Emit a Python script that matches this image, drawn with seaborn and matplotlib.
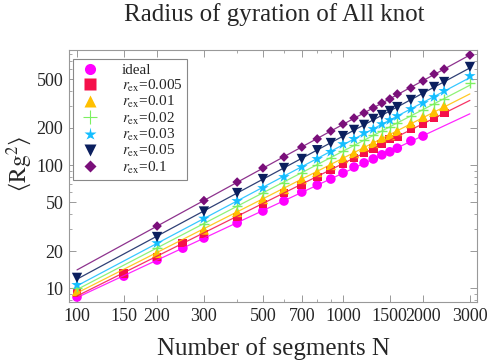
import numpy as np
import pandas as pd
import matplotlib
matplotlib.use('Agg')
import matplotlib.pyplot as plt
import seaborn as sns
from matplotlib.lines import Line2D
from matplotlib.ticker import FixedLocator, FixedFormatter, LogLocator, NullFormatter

# segment counts used by each series
n_ideal = [100, 150, 200, 250, 300, 400, 500, 600, 700, 800, 900, 1000, 1100, 1200,
           1300, 1400, 1500, 1600, 1800, 2000]
n_005 = [100, 150, 200, 250, 300, 400, 500, 600, 700, 800, 900, 1000, 1100, 1200,
         1300, 1400, 1500, 1600, 1800, 2000, 2200, 2400]
n_01 = [100, 200, 300, 400, 500, 600, 700, 800, 900, 1000, 1100, 1200,
        1300, 1400, 1500, 1600, 1800, 2000, 2200, 2400]
n_mid = [100, 200, 300, 400, 500, 600, 700, 800, 900, 1000, 1100, 1200,
         1300, 1400, 1500, 1600, 1800, 2000, 2200, 2400, 3000]
n_1 = [200, 300, 400, 500, 600, 700, 800, 900, 1000, 1100, 1200,
       1300, 1400, 1500, 1600, 1800, 2000, 2200, 2400, 3000]

# <Rg^2> values
rg_ideal = [8.45, 12.5, 16.9, 21.1, 25.5, 33.8, 42.3, 51.0, 60.3, 68.8, 76.9, 86.1, 96.3,
            104, 112, 121, 128, 137, 157, 172]
rg_005 = [9.1, 13.2, 17.9, 23.2, 27.5, 37.8, 48.2, 59.2, 68.8, 79.9, 91.1, 102, 114, 125,
          137, 148, 163, 169, 196, 219, 241, 265]
rg_01 = [9.45, 19.3, 29.9, 41.5, 52.9, 63.8, 76.9, 87.7, 100, 114, 125, 140, 151, 166,
         175, 189, 219, 246, 270, 302]
rg_02 = [10.0, 21.1, 33.1, 46.4, 59.2, 71.4, 86.1, 100, 114, 130, 145, 160, 175, 189,
         204, 219, 250, 280, 313, 344, 464]
rg_03 = [10.6, 23.2, 36.7, 51.0, 65.0, 79.9, 96.3, 112, 128, 148, 163, 182, 196, 215,
         232, 250, 285, 319, 357, 400, 529]
rg_05 = [12.1, 26.0, 41.9, 59.2, 76.9, 94.6, 112, 132, 151, 172, 193, 212, 237, 255,
         275, 296, 338, 378, 431, 473, 627]
rg_1 = [31.9, 51.4, 72.7, 94.6, 116, 140, 163, 189, 215, 241, 265, 291, 319, 344,
        378, 423, 482, 549, 603, 784]

labels = ['ideal', r'$r_{\mathrm{ex}}$=0.005', r'$r_{\mathrm{ex}}$=0.01', r'$r_{\mathrm{ex}}$=0.02',
          r'$r_{\mathrm{ex}}$=0.03', r'$r_{\mathrm{ex}}$=0.05', r'$r_{\mathrm{ex}}$=0.1']
colors = ['#FF00FF', '#F5104A', '#FFC000', '#7CF060', '#14BEFF', '#0B1F5E', '#7A0F7A']
markers = ['o', 's', '^', '+', '*', 'v', 'D']
sizes = [48, 40, 55, 60, 75, 55, 24]

series = [(n_ideal, rg_ideal), (n_005, rg_005), (n_01, rg_01), (n_mid, rg_02),
          (n_mid, rg_03), (n_mid, rg_05), (n_1, rg_1)]

sns.set_style('ticks')
plt.rcParams['font.family'] = ['Liberation Serif', 'DejaVu Serif']
plt.rcParams['mathtext.fontset'] = 'stix'

fig = plt.figure(figsize=(4.9, 3.62), dpi=100)
ax = fig.add_axes([69 / 490, 1 - 302 / 362, 408 / 490, 252 / 362])

handles = []
for (n, rg), lab, c, m, s in zip(series, labels, colors, markers, sizes):
    df = pd.DataFrame({'N': n, 'Rg2': rg})
    # power-law fit drawn across the whole N range
    coef = np.polyfit(np.log10(df['N']), np.log10(df['Rg2']), 1)
    n_line = np.array([100, 3000])
    sns.lineplot(x=n_line, y=10 ** np.polyval(coef, np.log10(n_line)), color=c,
                 lw=0.9, alpha=0.85, ax=ax)
    if m == '+':
        sns.scatterplot(data=df, x='N', y='Rg2', marker=m, s=s, color=c, linewidth=1.0, ax=ax)
        handles.append(Line2D([], [], ls='', marker=m, color=c, markersize=10, mew=0.8, label=lab))
    else:
        sns.scatterplot(data=df, x='N', y='Rg2', marker=m, s=s, color=c, edgecolor='none', ax=ax)
        handles.append(Line2D([], [], ls='', marker=m, color=c,
                              markersize={'D': 6.5, '*': 9.5}.get(m, 8), mec='none', label=lab))

ax.set_xscale('log')
ax.set_yscale('log')
ax.set_xlim(93.3, 3190)
ax.set_ylim(7.7, 861)

xt = [100, 150, 200, 300, 500, 700, 1000, 1500, 2000, 3000]
yt = [10, 20, 50, 100, 200, 500]
ax.xaxis.set_major_locator(FixedLocator(xt))
ax.xaxis.set_major_formatter(FixedFormatter([str(v) for v in xt]))
ax.xaxis.set_minor_locator(LogLocator(base=10, subs=np.arange(1, 10)))
ax.xaxis.set_minor_formatter(NullFormatter())
ax.yaxis.set_major_locator(FixedLocator(yt))
ax.yaxis.set_major_formatter(FixedFormatter([str(v) for v in yt]))
ax.yaxis.set_minor_locator(LogLocator(base=10, subs=np.arange(1, 10)))
ax.yaxis.set_minor_formatter(NullFormatter())

ax.tick_params(which='both', direction='in', top=True, right=True, color='#999999',
               labelsize=13, pad=4)
ax.tick_params(which='major', length=5, width=0.7)
ax.tick_params(which='minor', length=2.5, width=0.6)
for sp in ax.spines.values():
    sp.set_color('#999999')
    sp.set_linewidth(0.8)

ax.set_xlabel('Number of segments N', fontsize=18)
ax.xaxis.set_label_coords(0.5, -0.14)
ax.set_ylabel(r'$\langle\mathrm{Rg}^2\rangle$', fontsize=17)
ax.yaxis.set_label_coords(-0.085, 0.55)
fig.text(274 / 490, 1 - 15 / 362, 'Radius of gyration of All knot', fontsize=18,
         ha='center', va='center')

leg = ax.legend(handles=handles, loc='upper left', bbox_to_anchor=(0.0098, 0.964),
                borderaxespad=0, fancybox=False, framealpha=1, edgecolor='#888888',
                fontsize=11, handlelength=1.6, handletextpad=1.3, labelspacing=0.02,
                borderpad=0.3)
leg.get_frame().set_linewidth(0.8)

fig.savefig('out.png', dpi=100)
